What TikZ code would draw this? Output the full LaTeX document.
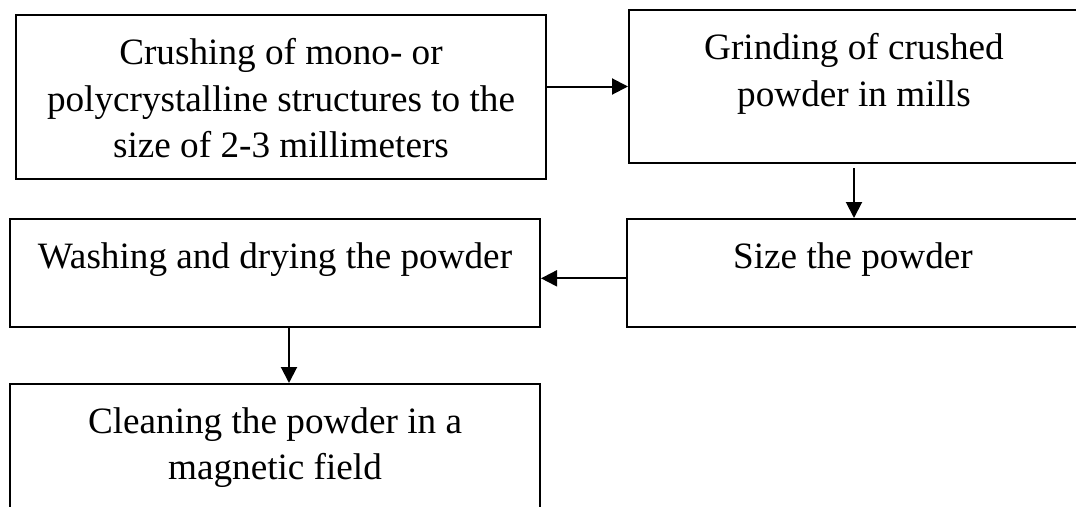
\documentclass[tikz,border=0pt]{standalone}
\usepackage{fontspec}
\setmainfont{Liberation Serif}
\usetikzlibrary{arrows.meta,positioning}

\begin{document}
\begin{tikzpicture}[x=0.75pt, y=-0.75pt, line width=1.5pt, font=\fontsize{27.9}{34.9}\selectfont, box/.style={rectangle, draw, inner sep=0pt, anchor=north west}, txt/.style={anchor=north, align=center, inner sep=0pt}, >={Triangle[length=12pt,width=12pt]}]
  \useasboundingbox (0,0) rectangle (1076,507);
  \clip (0,0) rectangle (1076,507);
  % boxes
  \node[box, minimum width=397.5pt, minimum height=123pt] (crush) at (15,14) {};
  \node[box, minimum width=337.5pt, minimum height=114.75pt] (grind) at (628,9) {};
  \node[box, minimum width=339pt, minimum height=81pt] (size) at (626,218) {};
  \node[box, minimum width=397.5pt, minimum height=81pt] (wash) at (9,218) {};
  \node[box, minimum width=397.5pt, minimum height=123pt] (clean) at (9,383) {};
  % texts
  \node[txt] (crushtxt) at ([yshift=-17.5pt]crush.north) {Crushing of mono- or\\polycrystalline structures to the\\size of 2-3 millimeters};
  \node[txt] (grindtxt) at ([yshift=-17.5pt]grind.north) {Grinding of crushed\\powder in mills};
  \node[txt] (sizetxt) at ([yshift=-17.5pt]size.north) {Size the powder};
  \node[txt] (washtxt) at ([yshift=-17.5pt]wash.north) {Washing and drying the powder};
  \node[txt] (cleantxt) at ([yshift=-17.5pt]clean.north) {Cleaning the powder in a\\magnetic field};
  % arrows
  \draw[->] (crush.east |- grind.west) -- (grind.west);
  \draw[->] ([yshift=-3pt]grind.south) -- (grind.south |- size.north);
  \draw[->] ([yshift=-4pt]size.west) -- ([yshift=-4pt]wash.east);
  \draw[->] ([xshift=10.5pt]wash.south) -- ([xshift=10.5pt]wash.south |- clean.north);
\end{tikzpicture}
\end{document}
